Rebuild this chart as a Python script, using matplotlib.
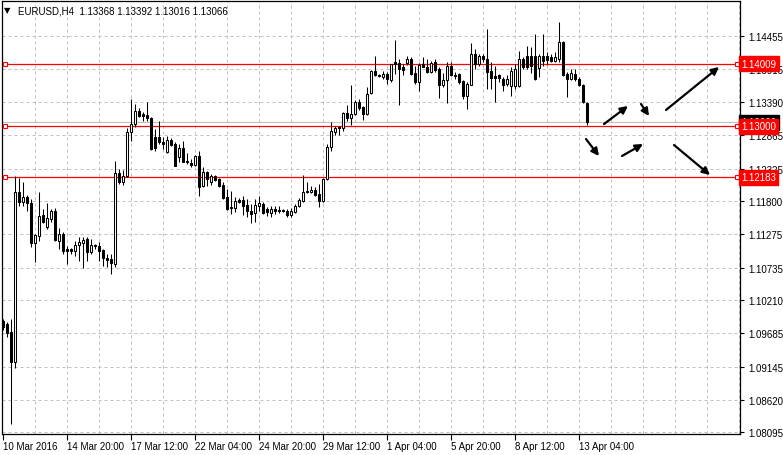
import matplotlib
matplotlib.use("Agg")
import matplotlib.pyplot as plt
import numpy as np

plt.rcParams["font.family"] = ["Liberation Sans", "DejaVu Sans"]

# EURUSD H4 candles (open, high, low, close), one per 4 hours
opens = [1.09879, 1.09831, 1.09703, 1.09221, 1.11948, 1.11788, 1.11868, 1.11772, 1.11130, 1.11243,
         1.11579, 1.11387, 1.11515, 1.11644, 1.11162, 1.11275, 1.11034, 1.11034, 1.11002, 1.11098,
         1.11130, 1.11194, 1.10986, 1.11098, 1.11082, 1.11018, 1.10890, 1.10874, 1.10793, 1.12253,
         1.12109, 1.12205, 1.12911, 1.13039, 1.13248, 1.13199, 1.13183, 1.13135, 1.12831, 1.12831,
         1.12750, 1.12590, 1.12782, 1.12718, 1.12510, 1.12654, 1.12446, 1.12413, 1.12381, 1.12526,
         1.12045, 1.12269, 1.12109, 1.12205, 1.12157, 1.12061, 1.11868, 1.11708, 1.11692, 1.11820,
         1.11820, 1.11740, 1.11644, 1.11611, 1.11724, 1.11756, 1.11676, 1.11611, 1.11676, 1.11660,
         1.11660, 1.11644, 1.11579, 1.11627, 1.11724, 1.11804, 1.11964, 1.11948, 1.11980, 1.11916,
         1.11804, 1.12157, 1.12670, 1.12911, 1.12991, 1.12975, 1.13215, 1.13135, 1.13199, 1.13392,
         1.13312, 1.13199, 1.13536, 1.13889, 1.13825, 1.13793, 1.13841, 1.13745, 1.14034, 1.14017,
         1.13953, 1.14017, 1.14082, 1.13857, 1.13713, 1.14001, 1.13953, 1.13873, 1.14034, 1.13921,
         1.13665, 1.13745, 1.13969, 1.13825, 1.13841, 1.13729, 1.13488, 1.13665, 1.14162, 1.14001,
         1.14130, 1.14082, 1.13889, 1.13809, 1.13825, 1.13761, 1.13681, 1.13649, 1.13649, 1.13649,
         1.14082, 1.14130, 1.14130, 1.14130, 1.13937, 1.14130, 1.14130, 1.14114, 1.14050, 1.14082,
         1.14354, 1.13841, 1.13761, 1.13841, 1.13761, 1.13665, 1.13368]
highs = [1.09911, 1.09863, 1.09911, 1.12205, 1.12173, 1.12109, 1.11900, 1.11836, 1.11275, 1.11948,
         1.11676, 1.11772, 1.11676, 1.11692, 1.11371, 1.11307, 1.11082, 1.11050, 1.11162, 1.11226,
         1.11226, 1.11226, 1.11194, 1.11114, 1.11146, 1.11034, 1.10954, 1.10954, 1.12446, 1.12317,
         1.12301, 1.12975, 1.13440, 1.13360, 1.13296, 1.13231, 1.13392, 1.13151, 1.12959, 1.13087,
         1.12831, 1.12847, 1.12814, 1.12750, 1.12718, 1.12766, 1.12574, 1.12478, 1.12542, 1.12606,
         1.12349, 1.12285, 1.12237, 1.12221, 1.12173, 1.12109, 1.11996, 1.11964, 1.11868, 1.11852,
         1.11884, 1.11836, 1.11756, 1.11836, 1.11884, 1.11788, 1.11708, 1.11724, 1.11724, 1.11724,
         1.11676, 1.11676, 1.11692, 1.11756, 1.11852, 1.12221, 1.12109, 1.12045, 1.12028, 1.12077,
         1.12173, 1.12718, 1.13071, 1.13007, 1.13007, 1.13231, 1.13344, 1.13665, 1.13424, 1.13440,
         1.13328, 1.13633, 1.13905, 1.14130, 1.13841, 1.13889, 1.13873, 1.14001, 1.14386, 1.14082,
         1.14001, 1.14130, 1.14114, 1.13969, 1.14017, 1.14114, 1.14082, 1.14050, 1.14082, 1.13953,
         1.13857, 1.14034, 1.14034, 1.13873, 1.13857, 1.13745, 1.13713, 1.14338, 1.14242, 1.14162,
         1.14162, 1.14563, 1.14034, 1.13969, 1.13841, 1.13793, 1.13825, 1.13953, 1.14001, 1.14210,
         1.14114, 1.14290, 1.14274, 1.14483, 1.14162, 1.14483, 1.14194, 1.14162, 1.14194, 1.14675,
         1.14370, 1.13873, 1.13921, 1.13921, 1.13793, 1.13681, 1.13392]
lows = [1.09735, 1.09623, 1.08227, 1.09125, 1.11724, 1.11724, 1.11644, 1.11066, 1.10825, 1.11162,
        1.11451, 1.11355, 1.11467, 1.11162, 1.11034, 1.10954, 1.10793, 1.10954, 1.10922, 1.10842,
        1.10729, 1.10842, 1.10954, 1.11034, 1.10842, 1.10761, 1.10745, 1.10633, 1.10745, 1.12077,
        1.12061, 1.12189, 1.12766, 1.12991, 1.13151, 1.13087, 1.13087, 1.12622, 1.12606, 1.12718,
        1.12638, 1.12574, 1.12686, 1.12365, 1.12429, 1.12429, 1.12397, 1.12349, 1.12365, 1.11884,
        1.12028, 1.12045, 1.12061, 1.12125, 1.12028, 1.11836, 1.11660, 1.11595, 1.11627, 1.11772,
        1.11579, 1.11547, 1.11451, 1.11467, 1.11644, 1.11595, 1.11563, 1.11547, 1.11595, 1.11611,
        1.11627, 1.11547, 1.11547, 1.11611, 1.11708, 1.11788, 1.11932, 1.11932, 1.11884, 1.11708,
        1.11788, 1.12141, 1.12606, 1.12863, 1.12863, 1.12927, 1.13087, 1.13023, 1.13183, 1.13264,
        1.13103, 1.13183, 1.13520, 1.13809, 1.13793, 1.13761, 1.13681, 1.13713, 1.13841, 1.13344,
        1.13825, 1.13985, 1.13825, 1.13681, 1.13568, 1.13953, 1.13857, 1.13857, 1.13873, 1.13456,
        1.13633, 1.13376, 1.13809, 1.13761, 1.13681, 1.13440, 1.13280, 1.13665, 1.13921, 1.13969,
        1.14034, 1.13600, 1.13600, 1.13392, 1.13713, 1.13568, 1.13649, 1.13488, 1.13600, 1.13633,
        1.13921, 1.13921, 1.13857, 1.13745, 1.13793, 1.13969, 1.13985, 1.14034, 1.14034, 1.14034,
        1.13809, 1.13472, 1.13745, 1.13729, 1.13649, 1.13376, 1.13016]
closes = [1.09783, 1.09687, 1.09221, 1.11948, 1.11788, 1.11868, 1.11772, 1.11130, 1.11259, 1.11563,
          1.11467, 1.11531, 1.11644, 1.11178, 1.11275, 1.11002, 1.11002, 1.11002, 1.11098, 1.11146,
          1.11178, 1.10986, 1.11098, 1.11082, 1.11002, 1.10890, 1.10858, 1.10809, 1.12253, 1.12109,
          1.12205, 1.12911, 1.13039, 1.13248, 1.13167, 1.13167, 1.13135, 1.12638, 1.12654, 1.12750,
          1.12718, 1.12782, 1.12702, 1.12365, 1.12654, 1.12429, 1.12429, 1.12381, 1.12526, 1.12028,
          1.12269, 1.12157, 1.12205, 1.12141, 1.12045, 1.11852, 1.11676, 1.11692, 1.11804, 1.11788,
          1.11724, 1.11644, 1.11595, 1.11740, 1.11772, 1.11611, 1.11627, 1.11676, 1.11644, 1.11644,
          1.11644, 1.11579, 1.11644, 1.11724, 1.11820, 1.11948, 1.11948, 1.11980, 1.11900, 1.11804,
          1.12157, 1.12670, 1.12927, 1.12975, 1.12975, 1.13215, 1.13135, 1.13199, 1.13392, 1.13296,
          1.13199, 1.13520, 1.13889, 1.13825, 1.13809, 1.13841, 1.13761, 1.14001, 1.14001, 1.13921,
          1.13905, 1.14082, 1.13841, 1.13713, 1.13985, 1.13953, 1.13873, 1.14017, 1.13905, 1.13665,
          1.13745, 1.13969, 1.13825, 1.13809, 1.13713, 1.13488, 1.13681, 1.14162, 1.14001, 1.14130,
          1.14082, 1.13873, 1.13777, 1.13777, 1.13777, 1.13665, 1.13761, 1.13889, 1.13921, 1.14082,
          1.13953, 1.13953, 1.13969, 1.13761, 1.14130, 1.14050, 1.14066, 1.14050, 1.14114, 1.14354,
          1.13825, 1.13761, 1.13857, 1.13761, 1.13665, 1.13392, 1.13066]

time_labels = ["10 Mar 2016", "14 Mar 20:00", "17 Mar 12:00", "22 Mar 04:00", "24 Mar 20:00",
               "29 Mar 12:00", "1 Apr 04:00", "5 Apr 20:00", "8 Apr 12:00", "13 Apr 04:00"]
price_ticks = [1.14455, 1.13915, 1.13390, 1.12865, 1.12325, 1.11800, 1.11275,
               1.10735, 1.10210, 1.09685, 1.09145, 1.08620, 1.08095]
levels = [1.14009, 1.13000, 1.12183]
bid = 1.13066

# scenario arrows drawn on the chart: (x0, y0, x1, y1) in bar index / price
arrows = [(150.25, 1.13039, 156.25, 1.13328),
          (159.5, 1.13360, 161.5, 1.13167),
          (165.75, 1.13264, 179.0, 1.13953),
          (145.75, 1.12798, 149.0, 1.12526),
          (154.75, 1.12526, 160.0, 1.12718),
          (167.75, 1.12702, 176.75, 1.12221)]

W, H = 783, 456
fig = plt.figure(figsize=(W / 100, H / 100), dpi=100)
fig.patch.set_facecolor("white")
ax = fig.add_axes([2 / W, (H - 435) / H, 738 / W, 433 / H])

n = len(opens)
idx = np.arange(n)
o = np.array(opens); c = np.array(closes); hi = np.array(highs); lo = np.array(lows)

# grid
grid_kw = dict(color="#c0c0c0", lw=0.72, linestyle=(0, (3, 3)), zorder=1)
for k in range(8, 185, 8):
    ax.axvline(k, **grid_kw)
for p in price_ticks:
    ax.axhline(p, **grid_kw)

# bid line + levels
ax.axhline(bid, color="#c0c0c0", lw=0.8, zorder=2)
for lv in levels:
    ax.axhline(lv, color="#ff0000", lw=0.9, zorder=2)
    ax.plot([0.6, 183.6], [lv, lv], "s", ms=3.2, mfc="white", mec="#ff0000",
            mew=0.8, zorder=6, clip_on=False)

# candles
ax.vlines(idx, lo, hi, colors="black", lw=0.75, zorder=3)
bull = c >= o
body_h = np.maximum(np.abs(c - o), 0.00003)
ax.bar(idx, body_h, bottom=np.minimum(o, c), width=0.5,
       color=np.where(bull, "white", "black"), edgecolor="black", lw=0.75, zorder=4)

# arrows
for x0, y0, x1, y1 in arrows:
    ax.annotate("", xy=(x1, y1), xytext=(x0, y0),
                arrowprops=dict(arrowstyle="-|>", color="black", lw=1.6,
                                mutation_scale=11, shrinkA=0, shrinkB=0), zorder=5)

ax.set_xlim(-0.25, 184.25)
ax.set_ylim(1.08067, 1.15012)

for s in ax.spines.values():
    s.set_color("black")
    s.set_linewidth(0.9)

ax.yaxis.tick_right()
ax.set_yticks(price_ticks)
ax.set_yticklabels([f"{p:.5f}" for p in price_ticks])
ax.tick_params(axis="y", length=3, width=0.8, pad=3, labelsize=7, colors="black")
ax.set_xticks(np.arange(0, 145, 16))
ax.set_xticklabels(time_labels, ha="left")
ax.tick_params(axis="x", length=4, width=0.8, pad=1, labelsize=7, colors="black")

# price labels on the right scale
ax.text(1.0015, bid, f"{bid:.5f}", transform=ax.get_yaxis_transform(), fontsize=7,
        color="white", va="center", ha="left", clip_on=False, zorder=9,
        bbox=dict(boxstyle="square,pad=0.25", fc="black", ec="black"))
for lv in levels:
    ax.text(1.0015, lv, f"{lv:.5f}", transform=ax.get_yaxis_transform(), fontsize=7,
            color="white", va="center", ha="left", clip_on=False, zorder=10,
            bbox=dict(boxstyle="square,pad=0.25", fc="#ff0000", ec="#ff0000"))

# header
fig.text(4 / W, 1 - 11 / H, "\u25bc", fontsize=6, va="center", ha="left", family="DejaVu Sans")
fig.text(18 / W, 1 - 11 / H, "EURUSD,H4  1.13368 1.13392 1.13016 1.13066",
         fontsize=7, va="center", ha="left", color="black")

fig.savefig("out.png", dpi=100)
